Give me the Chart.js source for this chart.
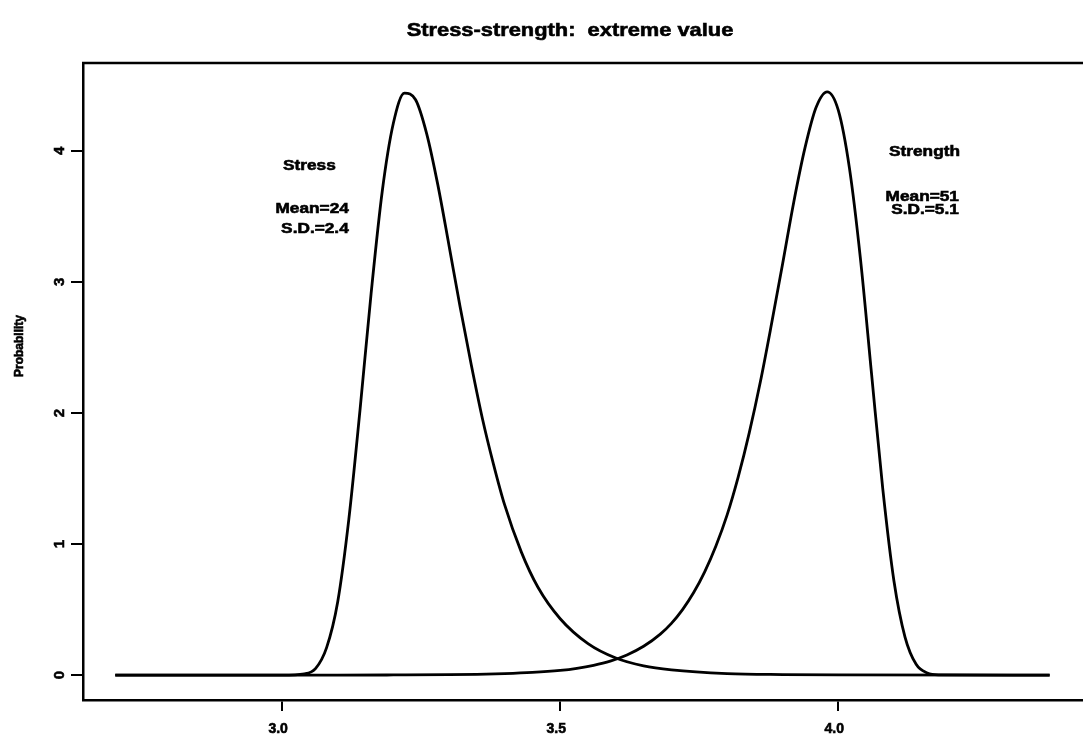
<!DOCTYPE html>
<html>
<head>
<meta charset="utf-8">
<script src="https://cdn.jsdelivr.net/npm/chart.js@4.4.1/dist/chart.umd.min.js"></script>
<style>
  body { margin: 0; background: #fff; }
  #wrap { width: 1083px; height: 741px; }
</style>
</head>
<body>
<div id="wrap"><canvas id="myChart" width="1083" height="741"></canvas></div>
<script>
// values (x on log scale)
var stressX = [2.70, 3.00, 3.04, 3.06, 3.08, 3.10, 3.12, 3.14, 3.16, 3.18, 3.20, 3.22, 3.24, 3.26, 3.28, 3.30, 3.32, 3.34, 3.36, 3.38, 3.40, 3.43, 3.46, 3.50, 3.55, 3.60, 3.65, 3.70, 3.80, 3.90, 4.00, 4.38];
var stressY = [0, 0, 0.01, 0.05, 0.21, 0.56, 1.19, 2.02, 2.91, 3.69, 4.21, 4.44, 4.39, 4.13, 3.74, 3.28, 2.81, 2.37, 1.96, 1.61, 1.30, 0.94, 0.67, 0.43, 0.24, 0.13, 0.07, 0.04, 0.012, 0.004, 0.001, 0];

var strengthX = [2.70, 3.00, 3.10, 3.20, 3.30, 3.35, 3.40, 3.45, 3.50, 3.53, 3.56, 3.59, 3.62, 3.65, 3.68, 3.70, 3.72, 3.74, 3.76, 3.78, 3.80, 3.82, 3.84, 3.86, 3.88, 3.90, 3.92, 3.94, 3.96, 3.98, 4.00, 4.02, 4.04, 4.06, 4.08, 4.10, 4.12, 4.14, 4.16, 4.18, 4.38];
var strengthY = [0, 0, 0, 0.001, 0.003, 0.006, 0.011, 0.02, 0.036, 0.052, 0.075, 0.107, 0.154, 0.22, 0.313, 0.395, 0.50, 0.63, 0.79, 0.985, 1.22, 1.51, 1.85, 2.24, 2.68, 3.14, 3.61, 4.02, 4.33, 4.45, 4.31, 3.87, 3.17, 2.29, 1.42, 0.72, 0.29, 0.082, 0.016, 0.002, 0];

var xTickValues = [3.0, 3.5, 4.0];
var yTickValues = [0, 1, 2, 3, 4];

var chartTitle = 'Stress-strength:  extreme value';
var yTitle = 'Probability';

// text notes, placed in data units
var noteText = ['Stress', 'Mean=24', 'S.D.=2.4', 'Strength', 'Mean=51', 'S.D.=5.1'];
var noteX = [3.049, 3.054, 3.059, 4.155, 4.151, 4.156];
var noteY = [3.885, 3.557, 3.405, 3.99, 3.65, 3.55];

var FONT = "'Liberation Sans', Arial, sans-serif";

function toPoints(xs, ys) {
    var pts = [];
    for (var i = 0; i < xs.length; i++) {
        pts.push({x: xs[i], y: ys[i]});
    }
    return pts;
}

// bold text, a bit wider and heavier like the scanned original
function wideText(ctx, txt, x, y, size, stretch, rot) {
    ctx.save();
    ctx.translate(x, y);
    if (rot) ctx.rotate(rot);
    ctx.scale(stretch, 1);
    ctx.font = 'bold ' + size + 'px ' + FONT;
    ctx.textAlign = 'center';
    ctx.textBaseline = 'middle';
    ctx.fillStyle = '#000';
    ctx.strokeStyle = '#000';
    ctx.lineWidth = 0.6;
    ctx.fillText(txt, 0, 0);
    ctx.strokeText(txt, 0, 0);
    ctx.restore();
}

var extras = {
    id: 'extras',
    afterDraw: function(chart) {
        var ctx = chart.ctx;
        var area = chart.chartArea;
        var xs = chart.scales.x, ys = chart.scales.y;

        // top edge of the box
        ctx.save();
        ctx.strokeStyle = '#000';
        ctx.lineWidth = 2.5;
        ctx.beginPath();
        ctx.moveTo(area.left - 1, area.top);
        ctx.lineTo(area.right, area.top);
        ctx.stroke();
        ctx.restore();

        wideText(ctx, chartTitle, 570, 31, 19, 1.15, 0);
        wideText(ctx, yTitle, 20, 346, 12, 1, -Math.PI / 2);

        // rotated y tick labels
        ys.ticks.forEach(function(t) {
            wideText(ctx, String(t.value), 60, ys.getPixelForValue(t.value), 15, 1, -Math.PI / 2);
        });

        // x tick labels
        xs.ticks.forEach(function(t) {
            wideText(ctx, Number(t.value).toFixed(1), xs.getPixelForValue(t.value) - 4, 729, 14, 1, 0);
        });

        for (var i = 0; i < noteText.length; i++) {
            wideText(ctx, noteText[i], xs.getPixelForValue(noteX[i]), ys.getPixelForValue(noteY[i]), 15, 1.15, 0);
        }
    }
};

var ctx = document.getElementById('myChart').getContext('2d');
var lineStyle = {
    borderColor: '#000',
    borderWidth: 2.8,
    pointRadius: 0,
    fill: false,
    cubicInterpolationMode: 'monotone'
};

var chart_config = {
    type: 'line',
    data: {
        datasets: [
            Object.assign({label: 'Stress', data: toPoints(stressX, stressY)}, lineStyle),
            Object.assign({label: 'Strength', data: toPoints(strengthX, strengthY)}, lineStyle)
        ]
    },
    options: {
        responsive: false,
        animation: false,
        devicePixelRatio: 1,
        layout: { padding: { top: 63, left: 0, right: 0, bottom: 0 } },
        plugins: {
            legend: { display: false },
            title: { display: false },
            tooltip: { enabled: false }
        },
        scales: {
            x: {
                type: 'linear',
                min: 2.642,
                max: 4.44,
                afterBuildTicks: function(s) {
                    s.ticks = xTickValues.map(function(v) { return {value: v}; });
                },
                afterFit: function(s) { s.height = 41; },
                ticks: { display: false },
                grid: { display: true, drawOnChartArea: false, drawTicks: true, tickLength: 11, color: '#000', lineWidth: 2 },
                border: { display: true, color: '#000', width: 2.5 }
            },
            y: {
                type: 'linear',
                min: -0.19,
                max: 4.67,
                afterBuildTicks: function(s) {
                    s.ticks = yTickValues.map(function(v) { return {value: v}; });
                },
                afterFit: function(s) { s.width = 83; },
                ticks: { display: false },
                grid: { display: true, drawOnChartArea: false, drawTicks: true, tickLength: 12, color: '#000', lineWidth: 2 },
                border: { display: true, color: '#000', width: 2.5 }
            }
        }
    },
    plugins: [extras]
};
var myLineChart = new Chart(ctx, chart_config);
</script>
</body>
</html>
